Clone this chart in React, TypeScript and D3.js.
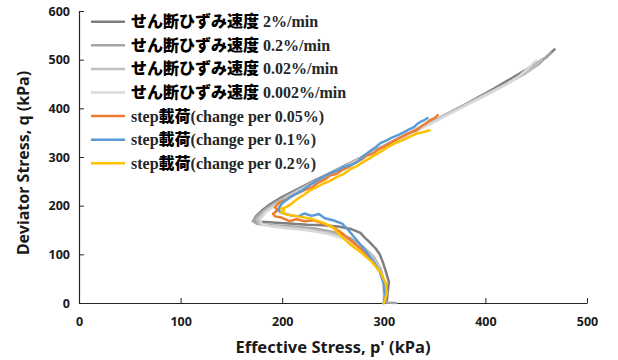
import * as d3 from "d3";
import { useEffect, useRef } from "react";

// p' (kPa), q (kPa) pairs
const rate2: [number, number][] = [[300,0],[303,5],[304,25],[305,43],[302,65],[299,84],[296,100],[292,112],[286,125],[281,135],[277,144],[268,152],[255,157],[240,160],[225,161],[210,163],[195,165],[180,167],[172,170],[174,178],[180,190],[188,203],[200,218],[217,236],[232,252],[247,267],[262,283],[277,298],[292,314],[306,329],[322,346],[338,363],[355,380],[368,395],[382,410],[395,425],[408,440],[421,456],[434,472],[447,488],[460,505],[468,521]];
const rate02: [number, number][] = [[312,0],[302,1],[301,20],[300,45],[297,70],[290,95],[280,115],[268,132],[252,145],[232,153],[210,157],[190,160],[175,163],[171,168],[176,180],[185,195],[198,212],[214,230],[230,248],[246,265],[262,282],[278,299],[294,316],[310,333],[326,350],[342,367],[358,384],[374,401],[390,418],[406,435],[422,452],[438,470],[452,490],[464,514]];
const rate002: [number, number][] = [[300,0],[301,20],[300,45],[296,72],[289,96],[278,116],[264,132],[247,144],[228,151],[208,155],[190,158],[178,162],[175,170],[181,185],[192,202],[206,220],[222,238],[238,256],[254,273],[270,290],[286,307],[302,324],[318,341],[334,358],[350,375],[366,392],[382,409],[398,426],[414,443],[430,461],[445,480],[455,500]];
const rate0002: [number, number][] = [[300,0],[300,20],[299,45],[295,72],[287,96],[276,116],[262,131],[245,142],[226,149],[207,153],[190,157],[180,162],[178,172],[184,187],[196,204],[210,222],[226,240],[242,258],[258,275],[274,292],[290,309],[306,326],[322,343],[338,360],[354,377],[370,394],[386,411],[402,428],[418,446],[432,464],[442,482],[450,498]];
const step005: [number, number][] = [[300,0],[302,15],[301,40],[296,65],[288,90],[278,110],[268,128],[258,145],[249,157],[240,163],[231,170],[222,168],[214,172],[207,168],[200,175],[193,178],[191,183],[195,190],[193,197],[197,206],[205,214],[212,222],[222,232],[230,238],[235,247],[243,255],[247,262],[254,266],[258,272],[266,280],[270,286],[279,296],[282,302],[290,308],[294,315],[301,322],[305,327],[312,335],[316,340],[322,346],[326,350],[333,356],[336,362],[342,370],[345,375],[350,380],[353,386]];
const step01: [number, number][] = [[300,0],[301,15],[300,40],[296,65],[289,88],[281,110],[273,130],[265,150],[259,163],[250,170],[242,174],[236,183],[229,179],[222,184],[216,178],[209,180],[202,184],[198,187],[196,193],[200,205],[208,218],[214,225],[220,232],[227,242],[233,250],[240,258],[247,267],[254,272],[260,279],[268,284],[274,290],[280,302],[285,310],[292,320],[297,329],[303,334],[308,340],[315,346],[320,351],[326,358],[330,362],[333,368],[336,372],[340,376],[343,380]];
const step02: [number, number][] = [[300,0],[303,20],[302,40],[297,62],[288,85],[277,105],[266,122],[257,140],[250,155],[240,165],[229,173],[215,178],[204,182],[199,186],[202,190],[199,194],[204,197],[208,202],[215,214],[222,223],[228,232],[234,238],[240,245],[247,251],[254,259],[261,266],[267,275],[274,282],[280,290],[286,297],[292,305],[298,312],[303,319],[308,325],[313,330],[318,334],[323,339],[328,344],[333,349],[337,350],[340,352],[345,355]];

const rateLabels = ["2%/min", "0.2%/min", "0.02%/min", "0.002%/min"];
const stepLabels = ["(change per 0.05%)", "(change per 0.1%)", "(change per 0.2%)"];
const seriesData = [rate2, rate02, rate002, rate0002, step005, step01, step02];
const colors = ["#7f7f7f", "#a5a5a5", "#bfbfbf", "#d9d9d9", "#ed7d31", "#5b9bd5", "#ffc000"];

const xTicks = [0, 100, 200, 300, 400, 500];
const yTicks = [0, 100, 200, 300, 400, 500, 600];

const W = 618;
const H = 360;
const plot = { left: 79, right: 587, top: 11, bottom: 303 };

export default function App() {
  const axisBottomRef = useRef<SVGGElement>(null);
  const axisLeftRef = useRef<SVGGElement>(null);

  const x = d3.scaleLinear().domain([0, 500]).range([plot.left, plot.right]);
  const y = d3.scaleLinear().domain([0, 600]).range([plot.bottom, plot.top]);
  const line = d3.line<[number, number]>().x(d => x(d[0])).y(d => y(d[1]));

  useEffect(() => {
    const tickFont = (g: d3.Selection<SVGGElement, unknown, null, undefined>) => {
      g.selectAll("text")
        .attr("font-family", "'Noto Sans', sans-serif")
        .attr("font-weight", "bold")
        .attr("font-size", 12.5)
        .attr("fill", "#1a1a1a");
      g.selectAll("line").attr("stroke", "#262626");
      g.select(".domain").attr("stroke", "#262626").attr("stroke-width", 1.2);
    };
    if (axisBottomRef.current) {
      const g = d3.select(axisBottomRef.current);
      g.call(d3.axisBottom(x).tickValues(xTicks).tickSizeInner(-5).tickSizeOuter(0).tickPadding(14));
      tickFont(g);
    }
    if (axisLeftRef.current) {
      const g = d3.select(axisLeftRef.current);
      g.call(d3.axisLeft(y).tickValues(yTicks).tickSizeInner(-5).tickSizeOuter(0).tickPadding(9));
      tickFont(g);
    }
  }, []);

  const jp = "'Noto Sans CJK JP', sans-serif";

  return (
    <svg width={W} height={H} style={{ position: "absolute", left: 0, top: 0, background: "#fff" }}>
      <g ref={axisBottomRef} transform={`translate(0, ${plot.bottom})`} />
      <g ref={axisLeftRef} transform={`translate(${plot.left}, 0)`} />
      {seriesData.map((d, i) => (
        <path key={`s-${i}`} d={line(d) || ""} fill="none" stroke={colors[i]} strokeWidth={2.5} strokeLinejoin="round" strokeLinecap="round" />
      ))}
      <g>
        {colors.map((c, i) => {
          const ly = 21.7 + i * 23.6;
          return (
            <g key={`l-${i}`}>
              <line x1={91} x2={125} y1={ly} y2={ly} stroke={c} strokeWidth={2.5} />
              <text x={131} y={ly + 5.5} fontSize={16} fontWeight="bold" fill="#262626" fontFamily="'Liberation Serif', serif">
                {i < 4 ? (
                  <>
                    <tspan fontFamily={jp} fontWeight={900} fill="#000">せん断ひずみ速度</tspan>
                    <tspan>{" " + rateLabels[i]}</tspan>
                  </>
                ) : (
                  <>
                    <tspan>step</tspan>
                    <tspan fontFamily={jp} fontWeight={900} fill="#000">載荷</tspan>
                    <tspan>{stepLabels[i - 4]}</tspan>
                  </>
                )}
              </text>
            </g>
          );
        })}
      </g>
      <text x={(plot.left + plot.right) / 2} y={353} textAnchor="middle" fontFamily="'Noto Sans', sans-serif" fontWeight="bold" fontSize={16.5} fill="#1a1a1a">
        Effective Stress, p' (kPa)
      </text>
      <text transform={`translate(29, ${(plot.top + plot.bottom) / 2 + 6}) rotate(-90)`} textAnchor="middle" fontFamily="'Noto Sans', sans-serif" fontWeight="bold" fontSize={16} fill="#1a1a1a">
        Deviator Stress, q (kPa)
      </text>
    </svg>
  );
}
